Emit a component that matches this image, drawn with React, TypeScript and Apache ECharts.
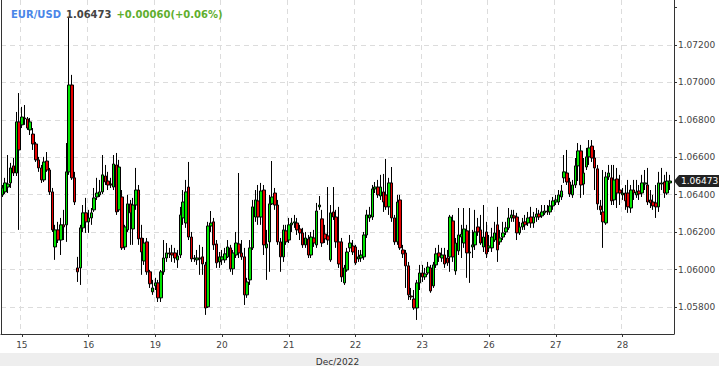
import React, { useEffect, useRef } from 'react';
import * as echarts from 'echarts';

const symbolName = 'EUR/USD';
const lastPriceText = '1.06473';
const changeText = '+0.00060(+0.06%)';
const monthLabel = 'Dec/2022';

const tradingDays = ['12-14', '12-15', '12-16', '12-19', '12-20', '12-21', '12-22', '12-23', '12-26', '12-27', '12-28'];
const firstHour = 17;
const lastHour = 17;

const open = [
  1.06399, 1.06415, 1.06441, 1.06463, 1.06554, 1.06516, 1.06789, 1.06773, 1.06810, 1.06805,
  1.06746, 1.06724, 1.06671, 1.06586, 1.06543, 1.06479, 1.06580, 1.06532, 1.06415, 1.06121,
  1.06212, 1.06158, 1.06239, 1.06239, 1.06522, 1.06986, 1.06490, 1.06009, 1.06009, 1.06223,
  1.06303, 1.06255, 1.06276, 1.06319, 1.06388, 1.06399, 1.06415, 1.06500, 1.06473, 1.06457,
  1.06441, 1.06559, 1.06319, 1.06388, 1.06121, 1.06212, 1.06351, 1.06217, 1.06345, 1.06425,
  1.06169, 1.06046, 1.06148, 1.05988, 1.05881, 1.05913, 1.05929, 1.05849, 1.05988, 1.06062,
  1.06089, 1.06089, 1.06089, 1.06052, 1.06078, 1.06276, 1.06249, 1.06441, 1.06174, 1.06057,
  1.06052, 1.06062, 1.06068, 1.06025, 1.05801, 1.06233, 1.06255, 1.06137, 1.06041, 1.06052,
  1.06052, 1.06068, 1.06116, 1.06004, 1.06078, 1.06137, 1.06089, 1.06068, 1.05865, 1.05945,
  1.06116, 1.06281, 1.06367, 1.06281, 1.06425, 1.06116, 1.06148, 1.06351, 1.06409, 1.06345,
  1.06148, 1.06068, 1.06207, 1.06158, 1.06239, 1.06249, 1.06249, 1.06217, 1.06196, 1.06132,
  1.06164, 1.06078, 1.06169, 1.06132, 1.06335, 1.06271, 1.06190, 1.06180, 1.06052, 1.06308,
  1.06281, 1.06148, 1.06148, 1.05929, 1.05998, 1.06116, 1.06126, 1.06121, 1.06057, 1.06062,
  1.06068, 1.06185, 1.06276, 1.06281, 1.06431, 1.06441, 1.06393, 1.06415, 1.06399, 1.06335,
  1.06463, 1.06276, 1.06148, 1.06372, 1.06105, 1.06089, 1.06020, 1.05859, 1.05843, 1.05795,
  1.05929, 1.05982, 1.05961, 1.05982, 1.06009, 1.05913, 1.06025, 1.06089, 1.06062, 1.06078,
  1.06062, 1.06068, 1.06260, 1.05993, 1.06100, 1.06174, 1.06142, 1.06207, 1.06089, 1.06121,
  1.06132, 1.06228, 1.06212, 1.06121, 1.06201, 1.06116, 1.06116, 1.06158, 1.06239, 1.06148,
  1.06174, 1.06201, 1.06223, 1.06276, 1.06287, 1.06281, 1.06196, 1.06228, 1.06255, 1.06249,
  1.06281, 1.06249, 1.06281, 1.06297, 1.06287, 1.06303, 1.06313, 1.06308, 1.06340, 1.06361,
  1.06361, 1.06388, 1.06490, 1.06516, 1.06468, 1.06399, 1.06452, 1.06554, 1.06634, 1.06457,
  1.06548, 1.06602, 1.06660, 1.06596, 1.06538, 1.06340, 1.06308, 1.06249, 1.06495, 1.06490,
  1.06372, 1.06484, 1.06425, 1.06399, 1.06409, 1.06409, 1.06329, 1.06425, 1.06399, 1.06420,
  1.06409, 1.06457, 1.06452, 1.06372, 1.06361, 1.06356, 1.06335, 1.06457, 1.06468, 1.06409,
  1.06463,
];

const close = [
  1.06436, 1.06463, 1.06457, 1.06543, 1.06516, 1.06789, 1.06639, 1.06815, 1.06805, 1.06756,
  1.06789, 1.06671, 1.06586, 1.06543, 1.06479, 1.06575, 1.06532, 1.06415, 1.06212, 1.06212,
  1.06158, 1.06239, 1.06228, 1.06522, 1.06986, 1.06490, 1.06361, 1.05988, 1.06223, 1.06303,
  1.06255, 1.06276, 1.06303, 1.06383, 1.06409, 1.06415, 1.06506, 1.06468, 1.06452, 1.06452,
  1.06564, 1.06308, 1.06548, 1.06116, 1.06228, 1.06351, 1.06303, 1.06345, 1.06425, 1.06164,
  1.06094, 1.06142, 1.05988, 1.05924, 1.05902, 1.05929, 1.05849, 1.05988, 1.06062, 1.06089,
  1.06084, 1.06078, 1.06062, 1.06073, 1.06292, 1.06361, 1.06415, 1.06174, 1.06057, 1.06062,
  1.06062, 1.06057, 1.06030, 1.05795, 1.06233, 1.06249, 1.06132, 1.06036, 1.06068, 1.06068,
  1.06084, 1.06121, 1.06004, 1.06089, 1.06142, 1.06089, 1.06068, 1.05865, 1.05934, 1.06116,
  1.06335, 1.06372, 1.06281, 1.06420, 1.06132, 1.06137, 1.06351, 1.06388, 1.06345, 1.06148,
  1.06068, 1.06212, 1.06148, 1.06239, 1.06249, 1.06255, 1.06212, 1.06196, 1.06132, 1.06169,
  1.06078, 1.06174, 1.06142, 1.06313, 1.06345, 1.06142, 1.06164, 1.06158, 1.06303, 1.06281,
  1.06148, 1.06030, 1.05961, 1.06009, 1.06094, 1.06142, 1.06094, 1.06036, 1.06068, 1.06078,
  1.06185, 1.06292, 1.06292, 1.06431, 1.06441, 1.06399, 1.06441, 1.06361, 1.06335, 1.06463,
  1.06276, 1.06148, 1.06361, 1.06116, 1.06084, 1.06020, 1.05865, 1.05854, 1.05795, 1.05929,
  1.05982, 1.05961, 1.05977, 1.06014, 1.05886, 1.06025, 1.06084, 1.06068, 1.06078, 1.06030,
  1.06036, 1.06281, 1.06068, 1.06142, 1.06185, 1.06190, 1.06217, 1.06089, 1.06094, 1.06132,
  1.06201, 1.06201, 1.06142, 1.06174, 1.06084, 1.06126, 1.06174, 1.06196, 1.06105, 1.06169,
  1.06196, 1.06223, 1.06276, 1.06292, 1.06276, 1.06196, 1.06228, 1.06249, 1.06239, 1.06276,
  1.06249, 1.06281, 1.06297, 1.06281, 1.06308, 1.06313, 1.06308, 1.06340, 1.06367, 1.06372,
  1.06399, 1.06420, 1.06522, 1.06468, 1.06404, 1.06452, 1.06554, 1.06634, 1.06452, 1.06516,
  1.06602, 1.06650, 1.06596, 1.06543, 1.06351, 1.06319, 1.06255, 1.06495, 1.06516, 1.06367,
  1.06479, 1.06409, 1.06409, 1.06409, 1.06367, 1.06335, 1.06425, 1.06409, 1.06415, 1.06404,
  1.06463, 1.06463, 1.06361, 1.06356, 1.06340, 1.06335, 1.06463, 1.06463, 1.06409, 1.06473,
  1.06473,
];

const low = [
  1.06388, 1.06404, 1.06409, 1.06436, 1.06500, 1.06500, 1.06212, 1.06756, 1.06773, 1.06746,
  1.06719, 1.06639, 1.06575, 1.06522, 1.06463, 1.06468, 1.06522, 1.06399, 1.06201, 1.06052,
  1.06142, 1.06078, 1.06158, 1.06148, 1.06506, 1.06479, 1.06345, 1.05934, 1.05918, 1.06201,
  1.06196, 1.06196, 1.06239, 1.06308, 1.06372, 1.06388, 1.06404, 1.06452, 1.06425, 1.06436,
  1.06425, 1.06292, 1.06308, 1.06105, 1.06105, 1.06201, 1.06132, 1.06132, 1.06319, 1.06132,
  1.05972, 1.06025, 1.05972, 1.05902, 1.05865, 1.05891, 1.05827, 1.05827, 1.05972, 1.06041,
  1.06062, 1.06041, 1.06036, 1.06009, 1.06062, 1.06239, 1.06223, 1.06158, 1.06041, 1.06041,
  1.06025, 1.05972, 1.05972, 1.05758, 1.05795, 1.06201, 1.06105, 1.06009, 1.06009, 1.06025,
  1.06036, 1.06062, 1.05988, 1.05972, 1.06062, 1.06062, 1.06052, 1.05811, 1.05849, 1.05918,
  1.06105, 1.06255, 1.06239, 1.06239, 1.06078, 1.05945, 1.05988, 1.06345, 1.06319, 1.06132,
  1.05988, 1.06041, 1.06132, 1.06142, 1.06201, 1.06223, 1.06185, 1.06158, 1.06116, 1.06116,
  1.06062, 1.06062, 1.06121, 1.06116, 1.06319, 1.06121, 1.06142, 1.06132, 1.06041, 1.06265,
  1.06116, 1.06009, 1.05934, 1.05918, 1.05988, 1.06094, 1.06078, 1.06025, 1.06041, 1.06041,
  1.06052, 1.06169, 1.06255, 1.06265, 1.06409, 1.06383, 1.06372, 1.06308, 1.06319, 1.06292,
  1.06255, 1.06132, 1.06132, 1.06105, 1.06062, 1.05902, 1.05838, 1.05838, 1.05785, 1.05731,
  1.05891, 1.05934, 1.05945, 1.05972, 1.05876, 1.05902, 1.06009, 1.06041, 1.06041, 1.06009,
  1.06020, 1.05988, 1.06041, 1.05972, 1.06078, 1.06062, 1.06116, 1.05956, 1.05929, 1.06062,
  1.06105, 1.06180, 1.06132, 1.06094, 1.06062, 1.06094, 1.06094, 1.06148, 1.06041, 1.06132,
  1.06158, 1.06185, 1.06212, 1.06255, 1.06255, 1.06158, 1.06185, 1.06212, 1.06212, 1.06233,
  1.06223, 1.06223, 1.06255, 1.06265, 1.06276, 1.06292, 1.06292, 1.06292, 1.06319, 1.06345,
  1.06345, 1.06372, 1.06463, 1.06452, 1.06388, 1.06383, 1.06436, 1.06473, 1.06383, 1.06399,
  1.06532, 1.06559, 1.06575, 1.06425, 1.06319, 1.06292, 1.06116, 1.06239, 1.06479, 1.06345,
  1.06345, 1.06329, 1.06345, 1.06372, 1.06319, 1.06303, 1.06303, 1.06372, 1.06383, 1.06372,
  1.06388, 1.06425, 1.06345, 1.06329, 1.06319, 1.06276, 1.06308, 1.06425, 1.06383, 1.06399,
  1.06425,
];

const high = [
  1.06452, 1.06490, 1.06612, 1.06570, 1.06596, 1.06842, 1.06943, 1.06869, 1.06879, 1.06815,
  1.06810, 1.06756, 1.06682, 1.06602, 1.06559, 1.06602, 1.06628, 1.06543, 1.06436, 1.06239,
  1.06255, 1.06276, 1.06319, 1.06676, 1.07349, 1.07040, 1.06522, 1.06068, 1.06239, 1.06345,
  1.06383, 1.06319, 1.06329, 1.06436, 1.06490, 1.06479, 1.06612, 1.06559, 1.06522, 1.06490,
  1.06612, 1.06623, 1.06586, 1.06425, 1.06239, 1.06399, 1.06372, 1.06383, 1.06543, 1.06452,
  1.06239, 1.06169, 1.06169, 1.05998, 1.05945, 1.05956, 1.05945, 1.05998, 1.06158, 1.06142,
  1.06116, 1.06132, 1.06116, 1.06105, 1.06335, 1.06425, 1.06479, 1.06575, 1.06201, 1.06078,
  1.06105, 1.06132, 1.06121, 1.06041, 1.06255, 1.06313, 1.06276, 1.06158, 1.06094, 1.06105,
  1.06116, 1.06158, 1.06132, 1.06105, 1.06201, 1.06516, 1.06158, 1.06116, 1.05956, 1.06158,
  1.06372, 1.06425, 1.06452, 1.06463, 1.06452, 1.06212, 1.06399, 1.06580, 1.06436, 1.06372,
  1.06169, 1.06239, 1.06239, 1.06276, 1.06276, 1.06292, 1.06276, 1.06239, 1.06223, 1.06201,
  1.06185, 1.06201, 1.06212, 1.06356, 1.06393, 1.06319, 1.06239, 1.06441, 1.06345, 1.06441,
  1.06319, 1.06335, 1.06169, 1.06025, 1.06116, 1.06185, 1.06158, 1.06132, 1.06105, 1.06105,
  1.06201, 1.06319, 1.06335, 1.06452, 1.06468, 1.06479, 1.06506, 1.06511, 1.06591, 1.06490,
  1.06548, 1.06292, 1.06399, 1.06399, 1.06132, 1.06105, 1.06041, 1.05902, 1.05891, 1.05945,
  1.06025, 1.06025, 1.06009, 1.06041, 1.06025, 1.06041, 1.06116, 1.06132, 1.06116, 1.06116,
  1.06105, 1.06292, 1.06292, 1.06169, 1.06329, 1.06239, 1.06329, 1.06239, 1.06329, 1.06212,
  1.06319, 1.06276, 1.06292, 1.06345, 1.06255, 1.06185, 1.06223, 1.06255, 1.06335, 1.06212,
  1.06255, 1.06255, 1.06329, 1.06319, 1.06319, 1.06303, 1.06255, 1.06276, 1.06292, 1.06308,
  1.06335, 1.06308, 1.06329, 1.06319, 1.06345, 1.06345, 1.06345, 1.06372, 1.06388, 1.06399,
  1.06425, 1.06452, 1.06612, 1.06639, 1.06490, 1.06479, 1.06596, 1.06676, 1.06666, 1.06596,
  1.06650, 1.06692, 1.06692, 1.06639, 1.06559, 1.06372, 1.06532, 1.06522, 1.06559, 1.06559,
  1.06559, 1.06543, 1.06506, 1.06436, 1.06452, 1.06479, 1.06452, 1.06479, 1.06479, 1.06452,
  1.06506, 1.06532, 1.06543, 1.06425, 1.06399, 1.06452, 1.06522, 1.06543, 1.06506, 1.06522,
  1.06506,
];

const yMin = 1.05656;
const yMax = 1.0744;
const yStep = 0.002;

const categories: string[] = [];
tradingDays.forEach((d, di) => {
  const start = di === 0 ? firstHour : 0;
  const end = di === tradingDays.length - 1 ? lastHour + 1 : 23;
  for (let h = start; h <= end; h++) categories.push(`${d} ${String(h).padStart(2, '0')}:00`);
});

const FONT = 'DejaVu Sans';
const GRID_RIGHT = 45;
const W = 719;

export default function App() {
  const ref = useRef<HTMLDivElement>(null);
  useEffect(() => {
    if (!ref.current) return;
    const chart = echarts.init(ref.current, undefined, { renderer: 'svg' });
    const data = open.map((o, i) => [o, close[i], low[i], high[i]]);
    const isDayStart = (_i: number, v: string) => v.endsWith(' 00:00');
    const gridColor = '#dcdcdc';
    const last = close[close.length - 1];
    const bandRect = { type: 'rect', id: 'band', left: 0, bottom: 0, z: -10, shape: { width: W, height: 13 }, style: { fill: '#eeeeee' } };
    chart.setOption({
      animation: false,
      backgroundColor: '#ffffff',
      title: {
        left: 11,
        top: 5,
        padding: 0,
        text: `{a|${symbolName}} {b|${lastPriceText}} {c|${changeText}}`,
        textStyle: {
          rich: {
            a: { color: '#4a86e8', fontSize: 10, fontWeight: 'bold', fontFamily: FONT, lineHeight: 12 },
            b: { color: '#444444', fontSize: 10, fontWeight: 'bold', fontFamily: FONT, lineHeight: 12 },
            c: { color: '#5fae2e', fontSize: 10, fontWeight: 'bold', fontFamily: FONT, lineHeight: 12 },
          },
        },
      },
      graphic: [bandRect],
      grid: { left: 1, right: GRID_RIGHT, top: 0, bottom: 32, outerBoundsMode: 'none', containLabel: false },
      xAxis: {
        type: 'category',
        data: categories,
        boundaryGap: true,
        name: monthLabel,
        nameLocation: 'middle',
        nameGap: 23,
        nameTextStyle: { fontSize: 9, fontFamily: FONT, color: '#333333' },
        axisLine: { show: true, lineStyle: { color: '#333333', width: 1 } },
        axisTick: { show: true, interval: isDayStart, alignWithLabel: true, length: 3, lineStyle: { color: '#333333' } },
        axisLabel: {
          interval: isDayStart,
          formatter: (v: string) => String(parseInt(v.slice(3, 5), 10)),
          fontSize: 9,
          fontFamily: FONT,
          color: '#444444',
          margin: 6,
        },
        splitLine: { show: true, interval: isDayStart, lineStyle: { color: gridColor, type: [5, 4], width: 1 } },
      },
      yAxis: [
        {
          type: 'value',
          position: 'right',
          min: yMin,
          max: yMax,
          splitNumber: 9,
          minInterval: yStep,
          maxInterval: yStep,
          scale: true,
          axisLine: { show: true, lineStyle: { color: '#333333', width: 1 } },
          axisTick: { show: true, length: 3, lineStyle: { color: '#333333' } },
          axisLabel: {
            showMinLabel: false,
            showMaxLabel: false,
            fontSize: 9,
            fontFamily: FONT,
            color: '#444444',
            margin: 4,
            formatter: (v: number) => {
              const k = v / yStep;
              if (Math.abs(k - Math.round(k)) > 1e-6 || v > 1.0731 || v < 1.0575) return '';
              return v.toFixed(5);
            },
          },
          splitLine: {
            show: true,
            lineStyle: {
              color: ['transparent', gridColor, gridColor, gridColor, gridColor, gridColor, gridColor, gridColor, gridColor, 'transparent', 'transparent'],
              type: [5, 4],
              width: 1,
            },
          },
        },
        {
          type: 'value',
          position: 'left',
          min: yMin,
          max: yMax,
          axisLine: { show: true, lineStyle: { color: '#333333', width: 1 } },
          axisTick: { show: false },
          axisLabel: { show: false },
          splitLine: { show: false },
        },
      ],
      series: [
        {
          type: 'candlestick',
          yAxisIndex: 0,
          data,
          barWidth: 3,
          itemStyle: {
            color: '#00e400',
            color0: '#e60000',
            borderColor: '#000000',
            borderColor0: '#000000',
            borderWidth: 1,
          },
          emphasis: { disabled: true },
        },
      ],
    });
    const py = chart.convertToPixel({ yAxisIndex: 0 }, last) as number;
    const ax = W - GRID_RIGHT;
    chart.setOption({
      graphic: [
        bandRect,
        {
          type: 'group',
          id: 'lastMarker',
          x: ax,
          y: py,
          z: 50,
          children: [
            { type: 'polygon', shape: { points: [[0, 0], [5, -6], [5, 6]] }, style: { fill: '#222222' } },
            { type: 'rect', shape: { x: 5, y: -6, width: W - ax - 5, height: 12 }, style: { fill: '#222222' } },
            {
              type: 'text',
              x: 7,
              y: 0,
              style: { text: last.toFixed(5), fill: '#ffffff', font: `9px "${FONT}"`, verticalAlign: 'middle', textAlign: 'left' },
            },
          ],
        },
      ],
    });
    return () => chart.dispose();
  }, []);
  return <div ref={ref} style={{ position: 'fixed', left: 0, top: 0, width: W, height: 366 }} />;
}
